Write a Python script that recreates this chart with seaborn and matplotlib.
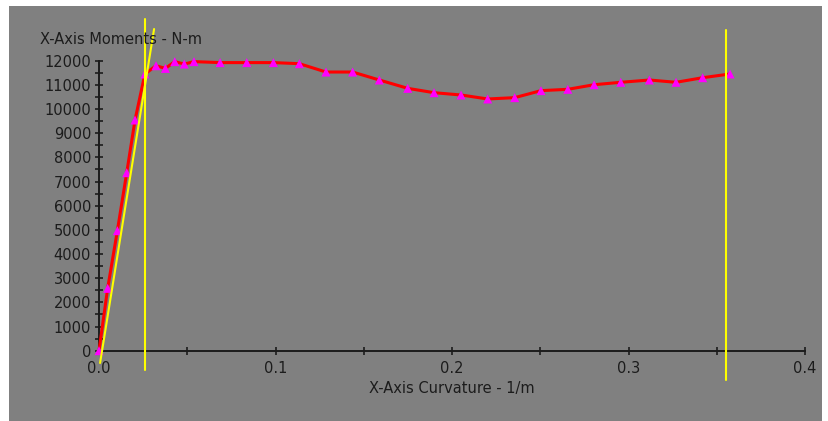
import matplotlib
matplotlib.use("Agg")
import matplotlib.pyplot as plt
from matplotlib.ticker import FixedLocator
import seaborn as sns
import pandas as pd

# moment-curvature points
curvature = [0.0, 0.0049, 0.0104, 0.0157, 0.0204, 0.026, 0.0323, 0.0376, 0.0429,
             0.0483, 0.0538, 0.0686, 0.0837, 0.0988, 0.1135, 0.1286, 0.1437,
             0.1588, 0.1749, 0.1898, 0.2051, 0.2202, 0.2355, 0.2504, 0.2656,
             0.2805, 0.2956, 0.3118, 0.3269, 0.342, 0.3575]
moment = [0, 2580, 4965, 7365, 9545, 11450, 11790, 11680, 11960,
          11860, 11960, 11920, 11920, 11920, 11875, 11530, 11530,
          11200, 10855, 10675, 10580, 10415, 10470, 10760, 10815,
          11005, 11105, 11200, 11105, 11295, 11450]

# yellow guide lines (elastic slope + two verticals)
slope_x = [0.0006, 0.0312]
slope_y = [-509, 13310]
vline1_x = [0.026, 0.026]
vline1_y = [-800, 13724]
vline2_x = [0.3552, 0.3552]
vline2_y = [-1212, 13270]

x_ticks = [0.0, 0.1, 0.2, 0.3, 0.4]
x_ticklabels = ["0.0", "0.1", "0.2", "0.3", "0.4"]
x_minor = [0.05, 0.15, 0.25, 0.35]
y_ticks = list(range(0, 12001, 1000))
y_minor = list(range(500, 12000, 1000))

x_label = "X-Axis Curvature - 1/m"
y_label = "X-Axis Moments - N-m"

df = pd.DataFrame({"curv": curvature, "mom": moment})

sns.set_style("white")
plt.rcParams['font.family'] = ['DejaVu Sans']

W, H = 829, 421
fig = plt.figure(figsize=(W / 100, H / 100), dpi=100, facecolor="white")
ax = fig.add_axes([9 / W, 0, (822 - 9) / W, (H - 6) / H])
ax.set_facecolor("#808080")

ink = "#1c1c1c"

sns.lineplot(data=df, x="curv", y="mom", ax=ax, color="red", linewidth=2.2,
             sort=False, estimator=None, zorder=2)
sns.scatterplot(data=df, x="curv", y="mom", ax=ax, marker="^", color="#ff00ff",
                s=42, edgecolor="none", zorder=3)

ax.plot(slope_x, slope_y, color="yellow", linewidth=1.5, zorder=4)
ax.plot(vline1_x, vline1_y, color="yellow", linewidth=1.5, zorder=4)
ax.plot(vline2_x, vline2_y, color="yellow", linewidth=1.5, zorder=4)

ax.set_xlim(-0.051, 0.4096)
ax.set_ylim(-2909, 14262)

for s in ["top", "right"]:
    ax.spines[s].set_visible(False)
ax.spines["left"].set_position(("data", 0))
ax.spines["bottom"].set_position(("data", 0))
ax.spines["left"].set_bounds(0, 12000)
ax.spines["bottom"].set_bounds(0, 0.4)
for s in ["left", "bottom"]:
    ax.spines[s].set_color(ink)
    ax.spines[s].set_linewidth(1.4)
    ax.spines[s].set_zorder(1)

ax.set_xticks(x_ticks)
ax.set_xticklabels(x_ticklabels)
ax.set_yticks(y_ticks)
ax.set_yticklabels([str(v) for v in y_ticks])
ax.xaxis.set_minor_locator(FixedLocator(x_minor))
ax.yaxis.set_minor_locator(FixedLocator(y_minor))

# seaborn "white" turns the tick marks off, switch them back on
ax.tick_params(which="both", bottom=True, left=True, direction="inout",
               length=5.5, width=1.2, color=ink, labelcolor=ink, labelsize=10.5)
ax.tick_params(axis="x", pad=5)
ax.tick_params(axis="y", pad=3)

ax.set_xlabel("")
ax.set_ylabel("")
ax.grid(False)

fig.text(40 / W, 1 - 39 / H, y_label, ha="left", va="center",
         fontsize=10.5, color=ink)
fig.text(452 / W, 1 - 389 / H, x_label, ha="center", va="center",
         fontsize=10.5, color=ink)

fig.savefig("out.png", dpi=100, facecolor="white")
